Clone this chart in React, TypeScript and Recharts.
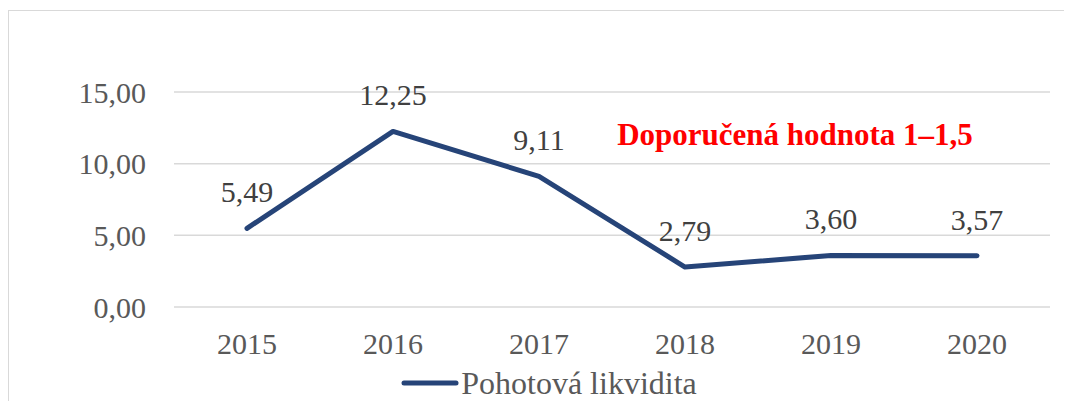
import React from 'react';
import { LineChart, Line, XAxis, YAxis, CartesianGrid, Legend, LabelList } from 'recharts';

const years = ['2015', '2016', '2017', '2018', '2019', '2020'];
const quickRatio = [5.49, 12.25, 9.11, 2.79, 3.6, 3.57];
const yTicks = [0, 5, 10, 15];
const seriesName = 'Pohotová likvidita';
const noteText = 'Doporučená hodnota 1–1,5';

const chartData = years.map((year, i) => ({ year, value: quickRatio[i] }));

const fmt = (v: number) => v.toFixed(2).replace('.', ',');
const FONT = '"Liberation Serif", "Times New Roman", serif';
const LINE_COLOR = '#264478';

const LegendContent = () => (
  <div style={{ display: 'flex', justifyContent: 'center', alignItems: 'center', paddingLeft: 40, marginTop: -3, fontFamily: FONT, fontSize: 32, color: '#595959' }}>
    <svg width={58} height={10} style={{ marginRight: 2 }}>
      <line x1={3} y1={5} x2={55} y2={5} stroke={LINE_COLOR} strokeWidth={5} strokeLinecap="round" />
    </svg>
    <span style={{ lineHeight: '30px' }}>{seriesName}</span>
  </div>
);

const App: React.FC = () => {
  return (
    <div style={{ width: 1064, height: 393, overflow: 'hidden', position: 'relative' }}>
      <div style={{ position: 'absolute', left: 0, top: 2, width: 1100, height: 420, border: '1px solid #d9d9d9', boxSizing: 'border-box' }} />
      <div style={{ position: 'absolute', left: 0, top: 0 }}>
        <LineChart width={1064} height={393} data={chartData} margin={{ top: 84, right: 22, left: 0, bottom: 0 }}>
          <CartesianGrid vertical={false} stroke="#d9d9d9" strokeWidth={1.5} />
          <XAxis
            dataKey="year"
            axisLine={false}
            tickLine={false}
            tickSize={0}
            tickMargin={26}
            height={64}
            padding={{ left: 73, right: 73 }}
            tick={{ fill: '#595959', fontSize: 30, fontFamily: FONT }}
          />
          <YAxis
            domain={[0, 15]}
            ticks={yTicks}
            width={166}
            axisLine={false}
            tickLine={false}
            tickSize={0}
            tickMargin={28}
            tickFormatter={fmt}
            tick={{ fill: '#595959', fontSize: 30, fontFamily: FONT }}
          />
          <Legend verticalAlign="bottom" height={30} content={<LegendContent />} />
          <Line
            type="linear"
            dataKey="value"
            name={seriesName}
            stroke={LINE_COLOR}
            strokeWidth={5}
            strokeLinecap="round"
            strokeLinejoin="round"
            dot={false}
            activeDot={false}
            isAnimationActive={false}
          >
            <LabelList
              dataKey="value"
              position="top"
              offset={26}
              formatter={(v: number) => fmt(v)}
              style={{ fill: '#404040', fontSize: 30, fontFamily: FONT }}
            />
          </Line>
        </LineChart>
      </div>
      <div
        style={{
          position: 'absolute',
          left: 787,
          top: 127,
          transform: 'translate(-50%, -50%)',
          whiteSpace: 'nowrap',
          color: '#ff0000',
          fontWeight: 'bold',
          fontSize: 31,
          fontFamily: FONT,
        }}
      >
        {noteText}
      </div>
    </div>
  );
};

export default App;
